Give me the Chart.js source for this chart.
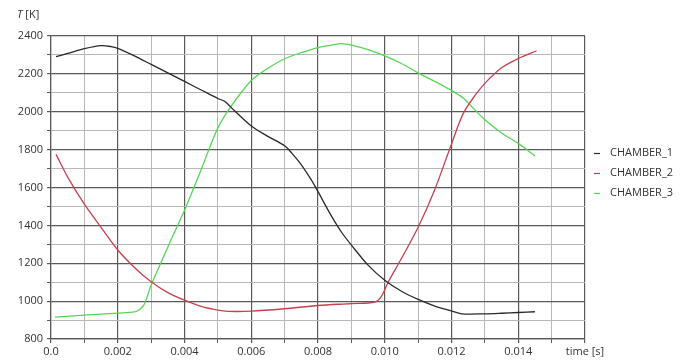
<!DOCTYPE html>
<html>
<head>
<meta charset="utf-8">
<script src="https://cdn.jsdelivr.net/npm/chart.js@4.4.1/dist/chart.umd.min.js"></script>
<style>
  html, body { margin: 0; padding: 0; background: #ffffff; }
  #wrap { width: 684px; height: 363px; }
</style>
</head>
<body>
<div id="wrap"><canvas id="chart" width="684" height="363"></canvas></div>
<script>
// Chamber gas temperatures over one cycle segment
const seriesNames = ['CHAMBER_1', 'CHAMBER_2', 'CHAMBER_3'];
const seriesColors = ['#2a2a2a', '#c4424e', '#55d655'];

const time1 = [0.00015, 0.0005, 0.001, 0.0015, 0.0018, 0.002, 0.0025, 0.003, 0.0035, 0.004,
  0.0045, 0.005, 0.0052, 0.0055, 0.006, 0.0065, 0.007, 0.00722, 0.0075, 0.0078, 0.008,
  0.0084, 0.0087, 0.009, 0.0095, 0.010, 0.0105, 0.011, 0.0115, 0.012, 0.0123, 0.013,
  0.0135, 0.014, 0.0145];
const temp1 = [2291, 2308, 2333, 2349, 2344, 2335, 2295, 2250, 2205, 2160,
  2115, 2070, 2055, 2005, 1925, 1870, 1820, 1780, 1720, 1640, 1578,
  1450, 1365, 1296, 1190, 1110, 1052, 1009, 974, 948, 933, 933,
  936, 940, 944];

const time2 = [0.00015, 0.0005, 0.001, 0.0015, 0.002, 0.0025, 0.003, 0.0035, 0.004,
  0.0045, 0.005, 0.0053, 0.006, 0.007, 0.008, 0.009, 0.0097, 0.0099, 0.0101, 0.0105,
  0.011, 0.0115, 0.012, 0.01235, 0.0127, 0.013, 0.0135, 0.014, 0.01455];
const temp2 = [1775, 1655, 1512, 1390, 1270, 1178, 1102, 1045, 1005,
  972, 952, 946, 947, 960, 977, 987, 995, 1025, 1100, 1225,
  1390, 1590, 1830, 1990, 2085, 2150, 2232, 2281, 2322];

const time3 = [0.00012, 0.001, 0.002, 0.0025, 0.00265, 0.0028, 0.003, 0.0033, 0.0036, 0.004,
  0.0045, 0.005, 0.0054, 0.006, 0.0065, 0.007, 0.0075, 0.008, 0.0084, 0.0087,
  0.009, 0.0095, 0.010, 0.0105, 0.011, 0.0115, 0.012, 0.01235, 0.0127, 0.013, 0.0135,
  0.014, 0.0145];
const temp3 = [916, 926, 937, 943, 955, 985, 1085, 1205, 1325, 1480,
  1695, 1915, 2030, 2165, 2230, 2280, 2312, 2339, 2352, 2360,
  2352, 2328, 2295, 2255, 2205, 2160, 2112, 2072, 2010, 1958, 1888,
  1833, 1767];

const xMin = 0, xMax = 0.016, xStep = 0.001;
const yMin = 800, yMax = 2400, yStep = 100;
const xTitle = 'time [s]';

const FONT = '"Open Sans", "DejaVu Sans", sans-serif';
const TEXT = '#333333';
const MAJOR = '#5a5a5a';
const MINOR = '#b8b8b8';

function toPoints(xs, ys) { return xs.map((x, i) => ({ x: x, y: ys[i] })); }

const timeSets = [time1, time2, time3];
const tempSets = [temp1, temp2, temp3];

const datasets = seriesNames.map((name, i) => ({
  label: name,
  data: toPoints(timeSets[i], tempSets[i]),
  borderColor: seriesColors[i],
  backgroundColor: seriesColors[i],
  borderWidth: 1.3,
  pointRadius: 0,
  tension: 0.3,
  fill: false
}));

// y title above the axis, plus the legend drawn to the right of the plot
const decorations = {
  id: 'decorations',
  afterDraw(chart) {
    const ctx = chart.ctx;
    ctx.save();
    ctx.fillStyle = TEXT;
    ctx.textBaseline = 'middle';
    ctx.textAlign = 'left';
    ctx.font = 'italic 11px ' + FONT;
    ctx.fillText('T', 17, 15);
    const tw = ctx.measureText('T ').width;
    ctx.font = '11px ' + FONT;
    ctx.fillText('[K]', 17 + tw, 15);

    const lx = chart.chartArea.right + 9;
    const ly = 153;
    seriesNames.forEach((name, i) => {
      const y = ly + i * 20;
      ctx.strokeStyle = seriesColors[i];
      ctx.lineWidth = 1.2;
      ctx.beginPath();
      ctx.moveTo(lx, y + 0.5);
      ctx.lineTo(lx + 6, y + 0.5);
      ctx.stroke();
      ctx.fillStyle = TEXT;
      ctx.font = '11px ' + FONT;
      ctx.fillText(name, lx + 16, y);
    });
    ctx.restore();
  }
};

new Chart(document.getElementById('chart'), {
  type: 'line',
  data: { datasets: datasets },
  options: {
    responsive: false,
    animation: false,
    layout: { padding: { left: 0, right: 99, top: 36, bottom: 0 } },
    plugins: { legend: { display: false }, tooltip: { enabled: false } },
    scales: {
      x: {
        type: 'linear',
        min: xMin, max: xMax,
        afterFit(scale) { scale.height = 24; },
        ticks: {
          stepSize: xStep,
          autoSkip: false,
          maxRotation: 0,
          padding: 2,
          color: TEXT,
          font: { family: FONT, size: 11 },
          callback(v) {
            const k = Math.round(v / xStep);
            if (k === 16) return xTitle;
            if (k % 2) return '';
            if (k === 0) return '0.0';
            return (k * xStep).toFixed(3);
          }
        },
        grid: {
          drawOnChartArea: true,
          tickLength: 4,
          tickColor: MAJOR,
          color(c) {
            const k = Math.round(c.tick.value / xStep);
            return k % 2 === 0 ? MAJOR : MINOR;
          },
          lineWidth(c) {
            const k = Math.round(c.tick.value / xStep);
            return k % 2 === 0 ? 1.2 : 1;
          }
        },
        border: { display: true, color: MAJOR, width: 1.2 }
      },
      y: {
        type: 'linear',
        min: yMin, max: yMax,
        afterFit(scale) { scale.width = 51; },
        ticks: {
          stepSize: yStep,
          autoSkip: false,
          padding: 4,
          color: TEXT,
          font: { family: FONT, size: 11 },
          callback(v) { return v % 200 === 0 ? String(v) : ''; }
        },
        grid: {
          tickLength: 4,
          tickColor: MAJOR,
          color(c) { return c.tick.value % 200 === 0 ? MAJOR : MINOR; },
          lineWidth(c) { return c.tick.value % 200 === 0 ? 1.2 : 1; }
        },
        border: { display: true, color: MAJOR, width: 1.2 }
      }
    }
  },
  plugins: [decorations]
});
</script>
</body>
</html>
